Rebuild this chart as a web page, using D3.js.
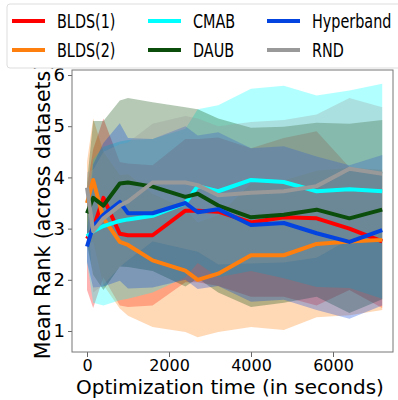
<!DOCTYPE html>
<html>
<head>
<meta charset="utf-8">
<script src="https://cdn.jsdelivr.net/npm/d3@7/dist/d3.min.js"></script>
<style>
  body { margin: 0; background: #fff; }
  text { font-family: "DejaVu Sans", sans-serif; fill: #000; }
</style>
</head>
<body>
<svg id="svg" width="398" height="400"></svg>
<script>
// optimization time (seconds) at which the mean rank was sampled
const times = [0, 150, 400, 800, 1000, 1600, 2400, 2700, 3200, 4000, 4800, 5600, 6400, 7200];

const methods = ['BLDS(1)', 'BLDS(2)', 'CMAB', 'DAUB', 'Hyperband', 'RND'];

const bldsOneMean = [2.8, 3.0, 3.6, 2.9, 2.87, 2.87, 3.35, 3.35, 3.33, 3.12, 3.22, 3.2, 3.0, 2.75];
const bldsTwoMean = [3.5, 3.95, 3.2, 2.74, 2.68, 2.38, 2.18, 2.0, 2.12, 2.48, 2.48, 2.7, 2.75, 2.78];
const cmabMean = [2.85, 2.95, 3.05, 3.15, 3.18, 3.25, 3.5, 3.83, 3.73, 3.95, 3.91, 3.73, 3.77, 3.73];
const daubMean = [3.3, 3.6, 3.45, 3.88, 3.9, 3.82, 3.62, 3.68, 3.45, 3.22, 3.27, 3.37, 3.2, 3.37];
const hyperbandMean = [2.65, 3.05, 3.27, 3.52, 3.3, 3.3, 3.5, 3.32, 3.38, 3.07, 3.11, 2.91, 2.74, 2.97];
const rndMean = [3.8, 2.95, 3.2, 3.45, 3.53, 3.9, 3.9, 3.85, 3.65, 3.7, 3.73, 3.83, 4.17, 4.07];

// spread across datasets (one std)
const bldsOneStd = [1.0, 1.55, 1.55, 1.4, 1.4, 1.37, 1.4, 1.4, 1.45, 1.45, 1.55, 1.7, 1.2, 1.3];
const bldsTwoStd = [0.8, 1.2, 1.3, 1.3, 1.38, 1.3, 1.2, 1.12, 1.14, 1.4, 1.46, 1.43, 1.44, 1.37];
const cmabStd = [0.5, 1.4, 1.55, 1.55, 1.55, 1.5, 1.45, 1.5, 1.68, 1.78, 1.88, 1.87, 1.93, 2.1];
const daubStd = [0.6, 1.5, 1.65, 1.62, 1.65, 1.65, 1.75, 1.65, 1.7, 1.75, 1.72, 1.7, 1.85, 1.75];
const hyperbandStd = [0.3, 1.2, 1.4, 1.54, 1.47, 1.45, 1.5, 1.5, 1.5, 1.5, 1.5, 1.5, 1.5, 1.47];
const rndStd = [0.3, 1.2, 1.3, 1.2, 1.15, 1.15, 1.3, 1.3, 1.35, 1.38, 1.39, 1.4, 1.38, 1.3];

const xTicks = [0, 2000, 4000, 6000];
const yTicks = [1, 2, 3, 4, 5, 6];

const means = [bldsOneMean, bldsTwoMean, cmabMean, daubMean, hyperbandMean, rndMean];
const stds = [bldsOneStd, bldsTwoStd, cmabStd, daubStd, hyperbandStd, rndStd];
const colors = ['#ff0000', '#ff7f0e', '#00ffff', '#0b4d0b', '#0343df', '#999999'];

const svg = d3.select('#svg');
const plotLeft = 72, plotRight = 393, plotTop = 70, plotBottom = 352;

const x = d3.scaleLinear().domain([-366, 7463]).range([plotLeft, plotRight]);
const y = d3.scaleLinear().domain([0.59, 6.098]).range([plotBottom, plotTop]);

svg.append('clipPath').attr('id', 'plot')
  .append('rect').attr('x', plotLeft).attr('y', plotTop)
  .attr('width', plotRight - plotLeft).attr('height', plotBottom - plotTop);

const series = methods.map((name, i) => ({
  name: name,
  color: colors[i],
  points: times.map((t, j) => ({ t: t, m: means[i][j], s: stds[i][j] }))
}));

const area = d3.area()
  .x(d => x(d.t))
  .y0(d => y(d.m - d.s))
  .y1(d => y(d.m + d.s));

const line = d3.line()
  .x(d => x(d.t))
  .y(d => y(d.m));

const g = svg.append('g').attr('clip-path', 'url(#plot)');

g.selectAll('path.band')
  .data(series)
  .enter()
  .append('path')
    .attr('class', 'band')
    .attr('d', d => area(d.points))
    .attr('fill', d => d.color)
    .attr('fill-opacity', 0.3);

g.selectAll('path.mean')
  .data(series)
  .enter()
  .append('path')
    .attr('class', 'mean')
    .attr('d', d => line(d.points))
    .attr('fill', 'none')
    .attr('stroke', d => d.color)
    .attr('stroke-width', 4)
    .attr('stroke-linejoin', 'round');

// axes
svg.append('g')
  .attr('transform', 'translate(0,' + plotBottom + ')')
  .call(d3.axisBottom(x).tickValues(xTicks).tickSize(5).tickPadding(3).tickFormat(d3.format('d')))
  .call(a => a.select('.domain').remove())
  .call(a => a.selectAll('line').attr('stroke', '#666'))
  .selectAll('text').style('font-size', '16px');

svg.append('g')
  .attr('transform', 'translate(' + plotLeft + ',0)')
  .call(d3.axisLeft(y).tickValues(yTicks).tickSize(4).tickPadding(3).tickFormat(d3.format('d')))
  .call(a => a.select('.domain').remove())
  .call(a => a.selectAll('line').attr('stroke', '#666'))
  .selectAll('text').style('font-size', '18px');

svg.append('rect')
  .attr('x', plotLeft).attr('y', plotTop)
  .attr('width', plotRight - plotLeft).attr('height', plotBottom - plotTop)
  .attr('fill', 'none').attr('stroke', '#777').attr('stroke-width', 1);

svg.append('text')
  .attr('x', 230).attr('y', 394)
  .attr('text-anchor', 'middle')
  .style('font-size', '20px')
  .text('Optimization time (in seconds)');

svg.append('text')
  .attr('transform', 'translate(50,211) rotate(-90)')
  .attr('text-anchor', 'middle')
  .style('font-size', '20.5px')
  .text('Mean Rank (across datasets)');

// legend, filled column by column like ncol=3
svg.append('rect')
  .attr('x', 7).attr('y', 4).attr('width', 420).attr('height', 64)
  .attr('rx', 3)
  .attr('fill', '#fff').attr('stroke', '#ddd');

const legend = svg.selectAll('g.entry')
  .data(series)
  .enter()
  .append('g')
    .attr('class', 'entry')
    .attr('transform', (d, i) => {
      const col = Math.floor(i / 2), row = i % 2;
      return 'translate(' + [12, 148, 267][col] + ',' + (21 + row * 29) + ')';
    });

legend.append('line')
  .attr('x1', 0).attr('x2', 33)
  .attr('stroke', d => d.color)
  .attr('stroke-width', 4);

// the legend lettering is narrow in the reference, so squeeze it horizontally
legend.append('g')
  .attr('transform', 'translate(45,7) scale(0.72,1)')
  .append('text')
    .style('font-size', '20px')
    .text(d => d.name);
</script>
</body>
</html>
